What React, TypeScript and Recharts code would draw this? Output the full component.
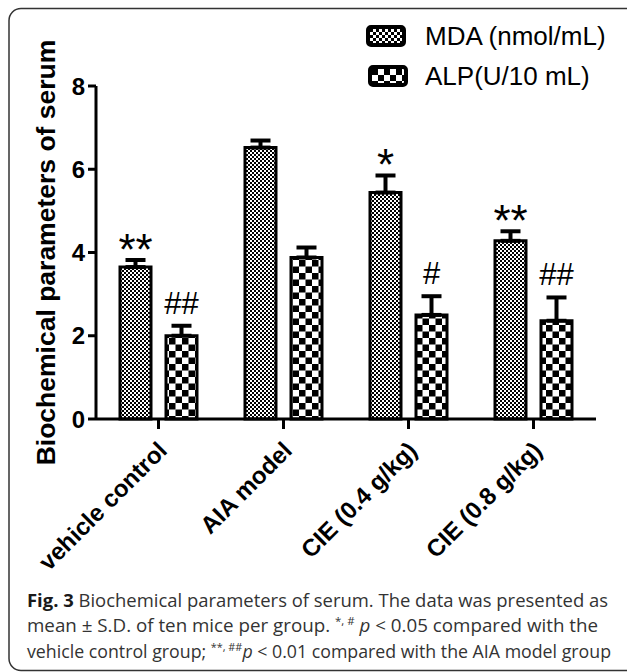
import React from 'react';
import { BarChart, Bar, XAxis, YAxis, ErrorBar, Legend } from 'recharts';

const categories = ['vehicle control', 'AIA model', 'CIE (0.4 g/kg)', 'CIE (0.8 g/kg)'];
const seriesNames = ['MDA (nmol/mL)', 'ALP(U/10 mL)'];
const mdaValues = [3.65, 6.52, 5.44, 4.28];
const mdaErrors = [0.17, 0.17, 0.41, 0.23];
const alpValues = [2.0, 3.88, 2.5, 2.36];
const alpErrors = [0.24, 0.24, 0.45, 0.56];
const mdaSig = ['**', '', '*', '**'];
const alpSig = ['##', '', '#', '##'];
const yTicks = [0, 2, 4, 6, 8];
const yLabel = 'Biochemical parameters of serum';

const data = categories.map((name, i) => ({
  name,
  mda: mdaValues[i],
  mdaErr: [0, mdaErrors[i]],
  alp: alpValues[i],
  alpErr: [0, alpErrors[i]],
}));

const SANS = "'Liberation Sans', Arial, Helvetica, sans-serif";
const CAP = "'Open Sans', 'Noto Sans', sans-serif";

const makeSig = (sig: string[], errs: number[], vals: number[], kind: 'star' | 'hash') => (props: any) => {
  const vb = props.viewBox || props;
  const idx = props.index;
  const text = sig[idx];
  if (!text) return null;
  const x = Number(vb.x);
  const y = Number(vb.y);
  const w = Number(vb.width);
  const h = Number(vb.height);
  const top = Math.min(y, y + h);
  const hh = Math.abs(h);
  const bottom = top + hh;
  const v = vals[idx];
  const errTop = bottom - ((v + errs[idx]) * hh) / v;
  const cx = x + w / 2;
  if (kind === 'star') {
    return (
      <text x={cx} y={errTop + 5} textAnchor="middle" fontSize={44} fontFamily={SANS} fill="#000">
        {text}
      </text>
    );
  }
  return (
    <text x={cx} y={errTop - 12} textAnchor="middle" fontSize={31} fontFamily={SANS} fill="#000">
      {text}
    </text>
  );
};

const XTick = (props: any) => {
  const { x, y, payload } = props;
  return (
    <g transform={`translate(${x + 10},${y + 21})`}>
      <text textAnchor="end" transform="rotate(-45)" fontSize={24} fontWeight="bold" fontFamily={SANS} fill="#000">
        {payload.value}
      </text>
    </g>
  );
};

const renderYLabel = (props: any) => {
  const vb = props.viewBox || {};
  const cx = Number(vb.x) + 46;
  const cy = Number(vb.y) + Number(vb.height) / 2;
  return (
    <text
      x={cx}
      y={cy}
      transform={`rotate(-90 ${cx} ${cy})`}
      textAnchor="middle"
      dominantBaseline="central"
      fontSize={26.5}
      fontWeight="bold"
      fontFamily={SANS}
      fill="#000"
    >
      {props.value}
    </text>
  );
};

const Patterns = () => (
  <defs>
    <pattern id="mdaPat" width="4" height="4" patternUnits="userSpaceOnUse">
      <rect width="4" height="4" fill="#fff" />
      <rect width="2" height="2" fill="#000" />
      <rect x="2" y="2" width="2" height="2" fill="#000" />
    </pattern>
    <pattern id="alpPat" width="13" height="13" patternUnits="userSpaceOnUse">
      <rect width="13" height="13" fill="#fff" />
      <rect width="6.5" height="6.5" fill="#000" />
      <rect x="6.5" y="6.5" width="6.5" height="6.5" fill="#000" />
    </pattern>
  </defs>
);

const LegendContent = () => (
  <svg width={627} height={100} style={{ display: 'block' }}>
    <defs>
      <pattern id="mdaLeg" x="370" y="29" width="6" height="6" patternUnits="userSpaceOnUse">
        <rect width="6" height="6" fill="#fff" />
        <rect width="3" height="3" fill="#000" />
        <rect x="3" y="3" width="3" height="3" fill="#000" />
      </pattern>
      <pattern id="alpLeg" x="372" y="69" width="12" height="12" patternUnits="userSpaceOnUse">
        <rect width="12" height="12" fill="#fff" />
        <rect width="6" height="6" fill="#000" />
        <rect x="6" y="6" width="6" height="6" fill="#000" />
      </pattern>
    </defs>
    <rect x={368} y={27} width={36} height={18} rx={3} fill="url(#mdaLeg)" stroke="#000" strokeWidth={4} />
    <text x={425} y={45} fontSize={26} fontFamily={SANS} fill="#000">
      {seriesNames[0]}
    </text>
    <rect x={370} y={67} width={36} height={18} rx={3} fill="url(#alpLeg)" stroke="#000" strokeWidth={4} />
    <text x={425} y={85} fontSize={26} fontFamily={SANS} fill="#000">
      {seriesNames[1]}
    </text>
  </svg>
);

export default function App() {
  return (
    <div style={{ position: 'absolute', left: 0, top: 0, width: 627, height: 672, background: '#fff' }}>
      <BarChart
        width={627}
        height={672}
        data={data}
        margin={{ top: 86, right: 31, bottom: 223, left: 0 }}
        barSize={31}
        barGap={15}
      >
        <Patterns />
        <XAxis
          dataKey="name"
          height={30}
          interval={0}
          tick={<XTick />}
          tickSize={10}
          axisLine={{ stroke: '#000', strokeWidth: 3 }}
          tickLine={{ stroke: '#000', strokeWidth: 3 }}
        />
        <YAxis
          width={96}
          domain={[0, 8]}
          ticks={yTicks}
          tickSize={8}
          tickMargin={3}
          axisLine={{ stroke: '#000', strokeWidth: 3 }}
          tickLine={{ stroke: '#000', strokeWidth: 3 }}
          tick={{ fill: '#000', fontSize: 24, fontWeight: 'bold', fontFamily: SANS }}
          label={{ value: yLabel, content: renderYLabel }}
        />
        <Legend
          layout="horizontal"
          verticalAlign="middle"
          align="center"
          wrapperStyle={{ left: 0, top: 0, width: 627, height: 100 }}
          content={<LegendContent />}
        />
        <Bar
          dataKey="mda"
          name={seriesNames[0]}
          fill="url(#mdaPat)"
          stroke="#000"
          strokeWidth={3}
          isAnimationActive={false}
          label={makeSig(mdaSig, mdaErrors, mdaValues, 'star')}
        >
          <ErrorBar dataKey="mdaErr" width={10} stroke="#000" strokeWidth={4} direction="y" isAnimationActive={false} />
        </Bar>
        <Bar
          dataKey="alp"
          name={seriesNames[1]}
          fill="url(#alpPat)"
          stroke="#000"
          strokeWidth={3}
          isAnimationActive={false}
          label={makeSig(alpSig, alpErrors, alpValues, 'hash')}
        >
          <ErrorBar dataKey="alpErr" width={10} stroke="#000" strokeWidth={4} direction="y" isAnimationActive={false} />
        </Bar>
      </BarChart>
      <svg
        width={627}
        height={672}
        style={{ position: 'absolute', left: 0, top: 0, pointerEvents: 'none' }}
      >
        <rect x={9} y={8.5} width={640} height={662} rx={12} fill="none" stroke="#333" strokeWidth={1.5} />
        <text x={27} y={607} fontSize={18} fontFamily={CAP} fill="#333" textLength={581} lengthAdjust="spacingAndGlyphs">
          <tspan fontWeight="bold" fill="#1a1a1a">Fig. 3</tspan>
          <tspan> Biochemical parameters of serum. The data was presented as</tspan>
        </text>
        <text x={27} y={632} fontSize={18} fontFamily={CAP} fill="#333" textLength={571} lengthAdjust="spacingAndGlyphs">
          <tspan>mean ± S.D. of ten mice per group. </tspan>
          <tspan fontSize={11} dy={-7}>*, #</tspan>
          <tspan dy={7}> </tspan>
          <tspan fontStyle="italic">p</tspan>
          <tspan> &lt; 0.05 compared with the</tspan>
        </text>
        <text x={27} y={658} fontSize={18} fontFamily={CAP} fill="#333" textLength={584} lengthAdjust="spacingAndGlyphs">
          <tspan>vehicle control group; </tspan>
          <tspan fontSize={11} dy={-7}>**, ##</tspan>
          <tspan dy={7} fontStyle="italic">p</tspan>
          <tspan> &lt; 0.01 compared with the AIA model group</tspan>
        </text>
      </svg>
    </div>
  );
}
